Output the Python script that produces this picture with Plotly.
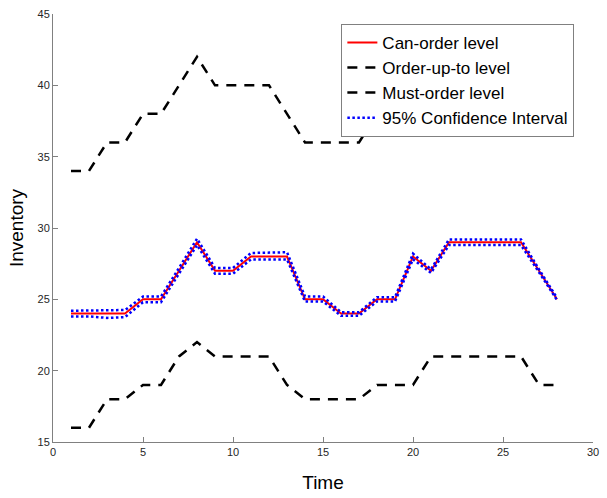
import plotly.graph_objects as go

time = list(range(1, 29))
can_order = [24, 24, 24, 24, 25, 25, 27, 29, 27, 27, 28, 28, 28, 25, 25, 24, 24, 25, 25, 28, 27, 29, 29, 29, 29, 29, 27, 25]
order_up_to = [34, 34, 36, 36, 38, 38, 40, 42, 40, 40, 40, 40, 38, 36, 36, 36, 36, 38, 38, 38, 40, 40, 40, 40, 40, 40, 38, 38]
must_order = [16, 16, 18, 18, 19, 19, 21, 22, 21, 21, 21, 21, 19, 18, 18, 18, 18, 19, 19, 19, 21, 21, 21, 21, 21, 21, 19, 19]
ci_upper = [24.2, 24.2, 24.25, 24.25, 25.2, 25.2, 27.2, 29.25, 27.2, 27.2, 28.25, 28.3, 28.3, 25.2, 25.2, 24.1, 24.1, 25.15, 25.15, 28.2, 27.1, 29.2, 29.2, 29.2, 29.2, 29.2, 27.1, 25.1]
ci_lower = [23.8, 23.8, 23.7, 23.75, 24.8, 24.8, 26.8, 28.8, 26.8, 26.8, 27.8, 27.8, 27.8, 24.85, 24.85, 23.85, 23.85, 24.85, 24.85, 27.8, 26.85, 28.8, 28.8, 28.8, 28.8, 28.8, 26.9, 24.95]

FONT = "Liberation Sans, Arial, Helvetica, sans-serif"
AX = "#808080"

fig = go.Figure()
fig.add_trace(go.Scatter(x=time, y=can_order, mode="lines", name="Can-order level",
                         line=dict(color="red", width=2)))
fig.add_trace(go.Scatter(x=time, y=order_up_to, mode="lines", name="Order-up-to level",
                         line=dict(color="black", width=2.5, dash="10px,8px")))
fig.add_trace(go.Scatter(x=time, y=must_order, mode="lines", name="Must-order level",
                         line=dict(color="black", width=2.5, dash="10px,8px")))
fig.add_trace(go.Scatter(x=time, y=ci_upper, mode="lines", name="95% Confidence Interval",
                         line=dict(color="blue", width=2.5, dash="2.5px,2.5px")))
fig.add_trace(go.Scatter(x=time, y=ci_lower, mode="lines", name="95% Confidence Interval",
                         showlegend=False,
                         line=dict(color="blue", width=2.5, dash="2.5px,2.5px")))

fig.update_layout(
    width=607, height=498,
    margin=dict(l=53, r=8, t=14, b=54),
    paper_bgcolor="white", plot_bgcolor="white",
    font=dict(family=FONT, color="#262626", size=11),
    legend=dict(x=0.534, y=0.977, xanchor="left", yanchor="top",
                bgcolor="white", bordercolor=AX, borderwidth=1,
                font=dict(size=17, color="black"), tracegroupgap=0),
    xaxis=dict(range=[0, 30], dtick=5, showline=True, linecolor=AX, mirror=False,
               ticks="inside", ticklen=5, tickcolor=AX, showgrid=False, zeroline=False,
               title=dict(text="Time", font=dict(size=19, color="black"), standoff=18),
               tickfont=dict(size=11, color="#262626")),
    yaxis=dict(range=[15, 45], dtick=5, showline=True, linecolor=AX, mirror=False,
               ticks="inside", ticklen=5, tickcolor=AX, showgrid=False, zeroline=False,
               title=dict(text="Inventory", font=dict(size=19, color="black"), standoff=8),
               tickfont=dict(size=11, color="#262626")),
)

fig.write_html("out.html")
